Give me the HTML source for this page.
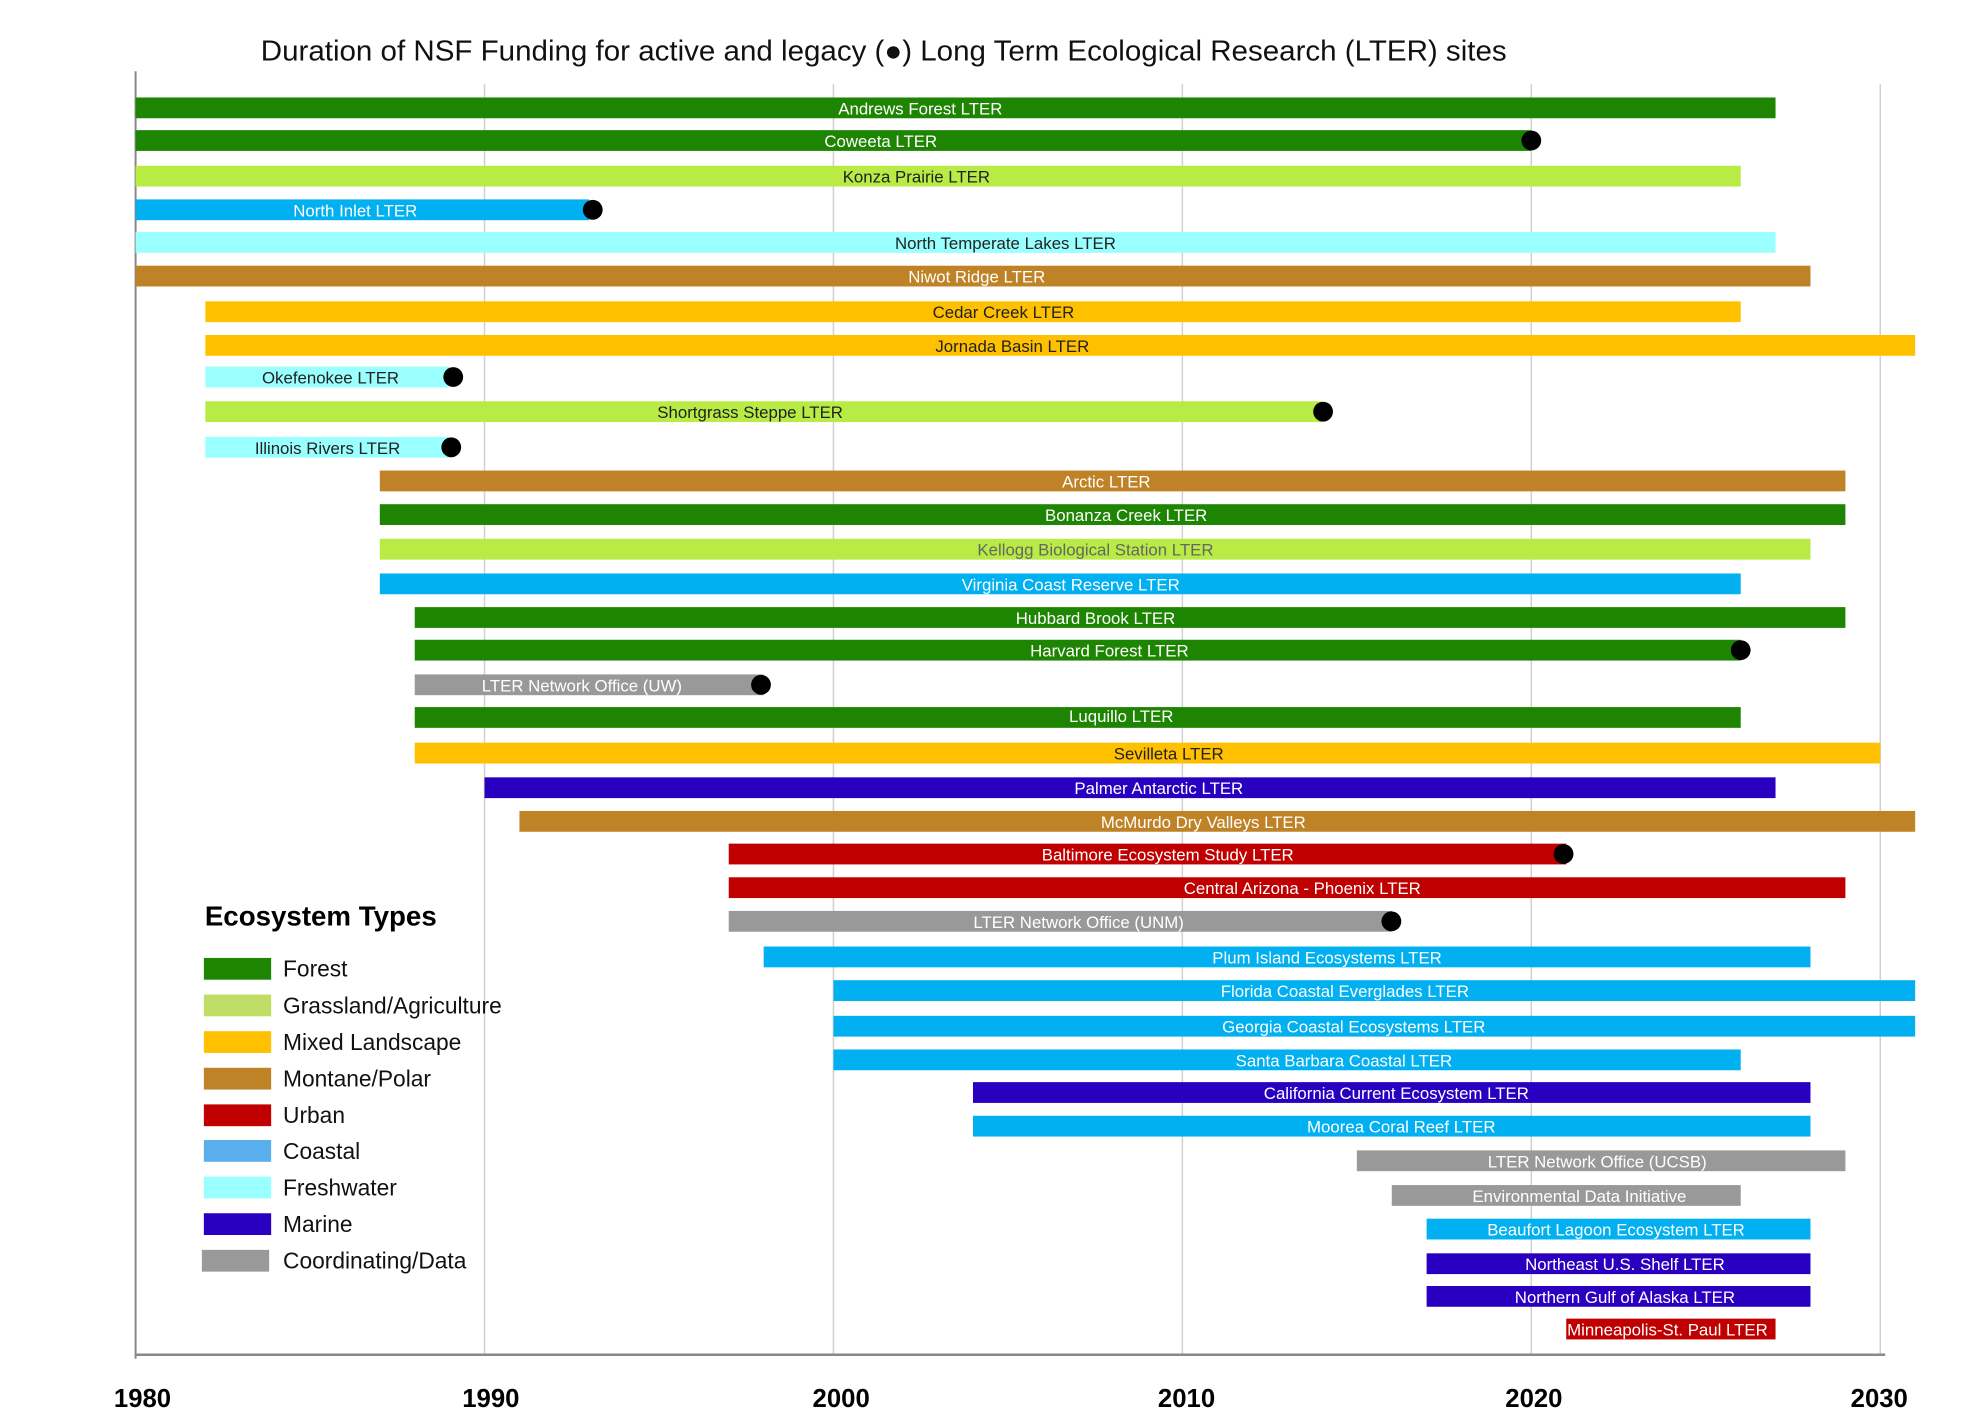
<!DOCTYPE html>
<html><head><meta charset="utf-8"><style>
html,body{margin:0;padding:0;background:#fff}
svg{display:block}
.l{font-family:"Liberation Sans Narrow","Liberation Sans",sans-serif;font-size:17px;text-anchor:middle;dominant-baseline:central}
.w{fill:#fff}.d{fill:#222}
</style></head><body>
<svg width="1969" height="1424" viewBox="0 0 1969 1424" xmlns="http://www.w3.org/2000/svg">
<g transform="scale(0.9896)">
<text x="893" y="61" font-family="Liberation Sans Narrow,Liberation Sans,sans-serif" font-size="29" text-anchor="middle" textLength="1259" lengthAdjust="spacingAndGlyphs" fill="#111">Duration of NSF Funding for active and legacy (●) Long Term Ecological Research (LTER) sites</text>
<g stroke="#d0d0d0" stroke-width="1.5">
<line x1="489.6" y1="85" x2="489.6" y2="1369"/><line x1="842.2" y1="85" x2="842.2" y2="1369"/><line x1="1194.8" y1="85" x2="1194.8" y2="1369"/><line x1="1547.4" y1="85" x2="1547.4" y2="1369"/><line x1="1900" y1="85" x2="1900" y2="1369"/>
</g>
<line x1="137" y1="72" x2="137" y2="1373" stroke="#888" stroke-width="2"/>
<line x1="138" y1="1369" x2="1905" y2="1369" stroke="#888" stroke-width="2.5"/>
<g>
<rect x="137" y="98.5" width="1657.2" height="21" fill="#1e8503"/>
<rect x="137" y="131.5" width="1410.4" height="21" fill="#1e8503"/>
<rect x="137" y="167.5" width="1622" height="21" fill="#b8eb44"/>
<rect x="137" y="201.5" width="458.4" height="21" fill="#00b0f0"/>
<rect x="137" y="234.5" width="1657.2" height="21" fill="#99ffff"/>
<rect x="137" y="268.5" width="1692.5" height="21" fill="#bf8226"/>
<rect x="207.5" y="304.5" width="1551.5" height="21" fill="#ffc000"/>
<rect x="207.5" y="338.5" width="1727.8" height="21" fill="#ffc000"/>
<rect x="207.5" y="370.5" width="246.8" height="21" fill="#99ffff"/>
<rect x="207.5" y="405.5" width="1128.3" height="21" fill="#b8eb44"/>
<rect x="207.5" y="441.5" width="246.8" height="21" fill="#99ffff"/>
<rect x="383.8" y="475.5" width="1481" height="21" fill="#bf8226"/>
<rect x="383.8" y="509.5" width="1481" height="21" fill="#1e8503"/>
<rect x="383.8" y="544.5" width="1445.7" height="21" fill="#b8eb44"/>
<rect x="383.8" y="579.5" width="1375.2" height="21" fill="#00b0f0"/>
<rect x="419.1" y="613.5" width="1445.7" height="21" fill="#1e8503"/>
<rect x="419.1" y="646.5" width="1339.9" height="21" fill="#1e8503"/>
<rect x="419.1" y="681.5" width="352.6" height="21" fill="#999999"/>
<rect x="419.1" y="714.5" width="1339.9" height="21" fill="#1e8503"/>
<rect x="419.1" y="750.5" width="1480.9" height="21" fill="#ffc000"/>
<rect x="489.6" y="785.5" width="1304.6" height="21" fill="#2a00c0"/>
<rect x="524.9" y="819.5" width="1410.4" height="21" fill="#bf8226"/>
<rect x="736.4" y="852.5" width="846.3" height="21" fill="#c00000"/>
<rect x="736.4" y="886.5" width="1128.4" height="21" fill="#c00000"/>
<rect x="736.4" y="920.5" width="670" height="21" fill="#999999"/>
<rect x="771.7" y="956.5" width="1057.8" height="21" fill="#00b0f0"/>
<rect x="842.2" y="990.5" width="1093.1" height="21" fill="#00b0f0"/>
<rect x="842.2" y="1026.5" width="1093.1" height="21" fill="#00b0f0"/>
<rect x="842.2" y="1060.5" width="916.8" height="21" fill="#00b0f0"/>
<rect x="983.2" y="1093.5" width="846.3" height="21" fill="#2a00c0"/>
<rect x="983.2" y="1127.5" width="846.3" height="21" fill="#00b0f0"/>
<rect x="1371.1" y="1162.5" width="493.7" height="21" fill="#999999"/>
<rect x="1406.4" y="1197.5" width="352.6" height="21" fill="#999999"/>
<rect x="1441.6" y="1231.5" width="387.9" height="21" fill="#00b0f0"/>
<rect x="1441.6" y="1266.5" width="387.9" height="21" fill="#2a00c0"/>
<rect x="1441.6" y="1299.5" width="387.9" height="21" fill="#2a00c0"/>
<rect x="1582.7" y="1332.5" width="211.5" height="21" fill="#c00000"/>
</g>
<g fill="#000">
<circle cx="1547.4" cy="142" r="10"/><circle cx="599" cy="212" r="10"/><circle cx="458" cy="381" r="10"/><circle cx="1337" cy="416" r="10"/><circle cx="456" cy="452" r="10"/><circle cx="1759" cy="657" r="10"/><circle cx="769" cy="692" r="10"/><circle cx="1580" cy="863" r="10"/><circle cx="1406" cy="931" r="10"/>
</g>
<g class="l">
<text class="w" x="930" y="110">Andrews Forest LTER</text>
<text class="w" x="890" y="143">Coweeta LTER</text>
<text class="d" x="926" y="179">Konza Prairie LTER</text>
<text class="w" x="359" y="213">North Inlet LTER</text>
<text class="d" x="1016" y="246">North Temperate Lakes LTER</text>
<text class="w" x="987" y="280">Niwot Ridge LTER</text>
<text class="d" x="1014" y="316">Cedar Creek LTER</text>
<text class="d" x="1023" y="350">Jornada Basin LTER</text>
<text class="d" x="334" y="382">Okefenokee LTER</text>
<text class="d" x="758" y="417">Shortgrass Steppe LTER</text>
<text class="d" x="331" y="453">Illinois Rivers LTER</text>
<text class="w" x="1118" y="487">Arctic LTER</text>
<text class="w" x="1138" y="521">Bonanza Creek LTER</text>
<text fill="#666" x="1107" y="556">Kellogg Biological Station LTER</text>
<text class="w" x="1082" y="591">Virginia Coast Reserve LTER</text>
<text class="w" x="1107" y="625">Hubbard Brook LTER</text>
<text class="w" x="1121" y="658">Harvard Forest LTER</text>
<text class="w" x="588" y="693">LTER Network Office (UW)</text>
<text class="w" x="1133" y="724">Luquillo LTER</text>
<text class="d" x="1181" y="762">Sevilleta LTER</text>
<text class="w" x="1171" y="797">Palmer Antarctic LTER</text>
<text class="w" x="1216" y="831">McMurdo Dry Valleys LTER</text>
<text class="w" x="1180" y="864">Baltimore Ecosystem Study LTER</text>
<text class="w" x="1316" y="898">Central Arizona - Phoenix LTER</text>
<text class="w" x="1090" y="932">LTER Network Office (UNM)</text>
<text class="w" x="1341" y="968">Plum Island Ecosystems LTER</text>
<text class="w" x="1359" y="1002">Florida Coastal Everglades LTER</text>
<text class="w" x="1368" y="1038">Georgia Coastal Ecosystems LTER</text>
<text class="w" x="1358" y="1072">Santa Barbara Coastal LTER</text>
<text class="w" x="1411" y="1105">California Current Ecosystem LTER</text>
<text class="w" x="1416" y="1139">Moorea Coral Reef LTER</text>
<text class="w" x="1614" y="1174">LTER Network Office (UCSB)</text>
<text class="w" x="1596" y="1209">Environmental Data Initiative</text>
<text class="w" x="1633" y="1243">Beaufort Lagoon Ecosystem LTER</text>
<text class="w" x="1642" y="1278">Northeast U.S. Shelf LTER</text>
<text class="w" x="1642" y="1311">Northern Gulf of Alaska LTER</text>
<text class="w" x="1685" y="1344">Minneapolis-St. Paul LTER</text>
</g>
<text x="207" y="935" font-family="Liberation Sans,sans-serif" font-size="28" font-weight="bold" fill="#000">Ecosystem Types</text>
<g font-family="Liberation Sans,sans-serif" font-size="23" fill="#111">
<rect x="206" y="968" width="68" height="22" fill="#1e8503"/><text x="286" y="987">Forest</text>
<rect x="206" y="1005" width="68" height="22" fill="#c0dd66"/><text x="286" y="1024">Grassland/Agriculture</text>
<rect x="206" y="1042" width="68" height="22" fill="#ffc000"/><text x="286" y="1061">Mixed Landscape</text>
<rect x="206" y="1079" width="68" height="22" fill="#bf8226"/><text x="286" y="1098">Montane/Polar</text>
<rect x="206" y="1116" width="68" height="22" fill="#c00000"/><text x="286" y="1135">Urban</text>
<rect x="206" y="1152" width="68" height="22" fill="#5aaeee"/><text x="286" y="1171">Coastal</text>
<rect x="206" y="1189" width="68" height="22" fill="#99ffff"/><text x="286" y="1208">Freshwater</text>
<rect x="206" y="1226" width="68" height="22" fill="#2a00c0"/><text x="286" y="1245">Marine</text>
<rect x="204" y="1263" width="68" height="22" fill="#999999"/><text x="286" y="1282">Coordinating/Data</text>
</g>
<g font-family="Liberation Sans Narrow,Liberation Sans,sans-serif" font-size="26" font-weight="bold" text-anchor="middle" fill="#000">
<text x="144" y="1422">1980</text><text x="496" y="1422">1990</text><text x="850" y="1422">2000</text><text x="1199" y="1422">2010</text><text x="1550" y="1422">2020</text><text x="1899" y="1422">2030</text>
</g>
</g>
</svg>
</body></html>
